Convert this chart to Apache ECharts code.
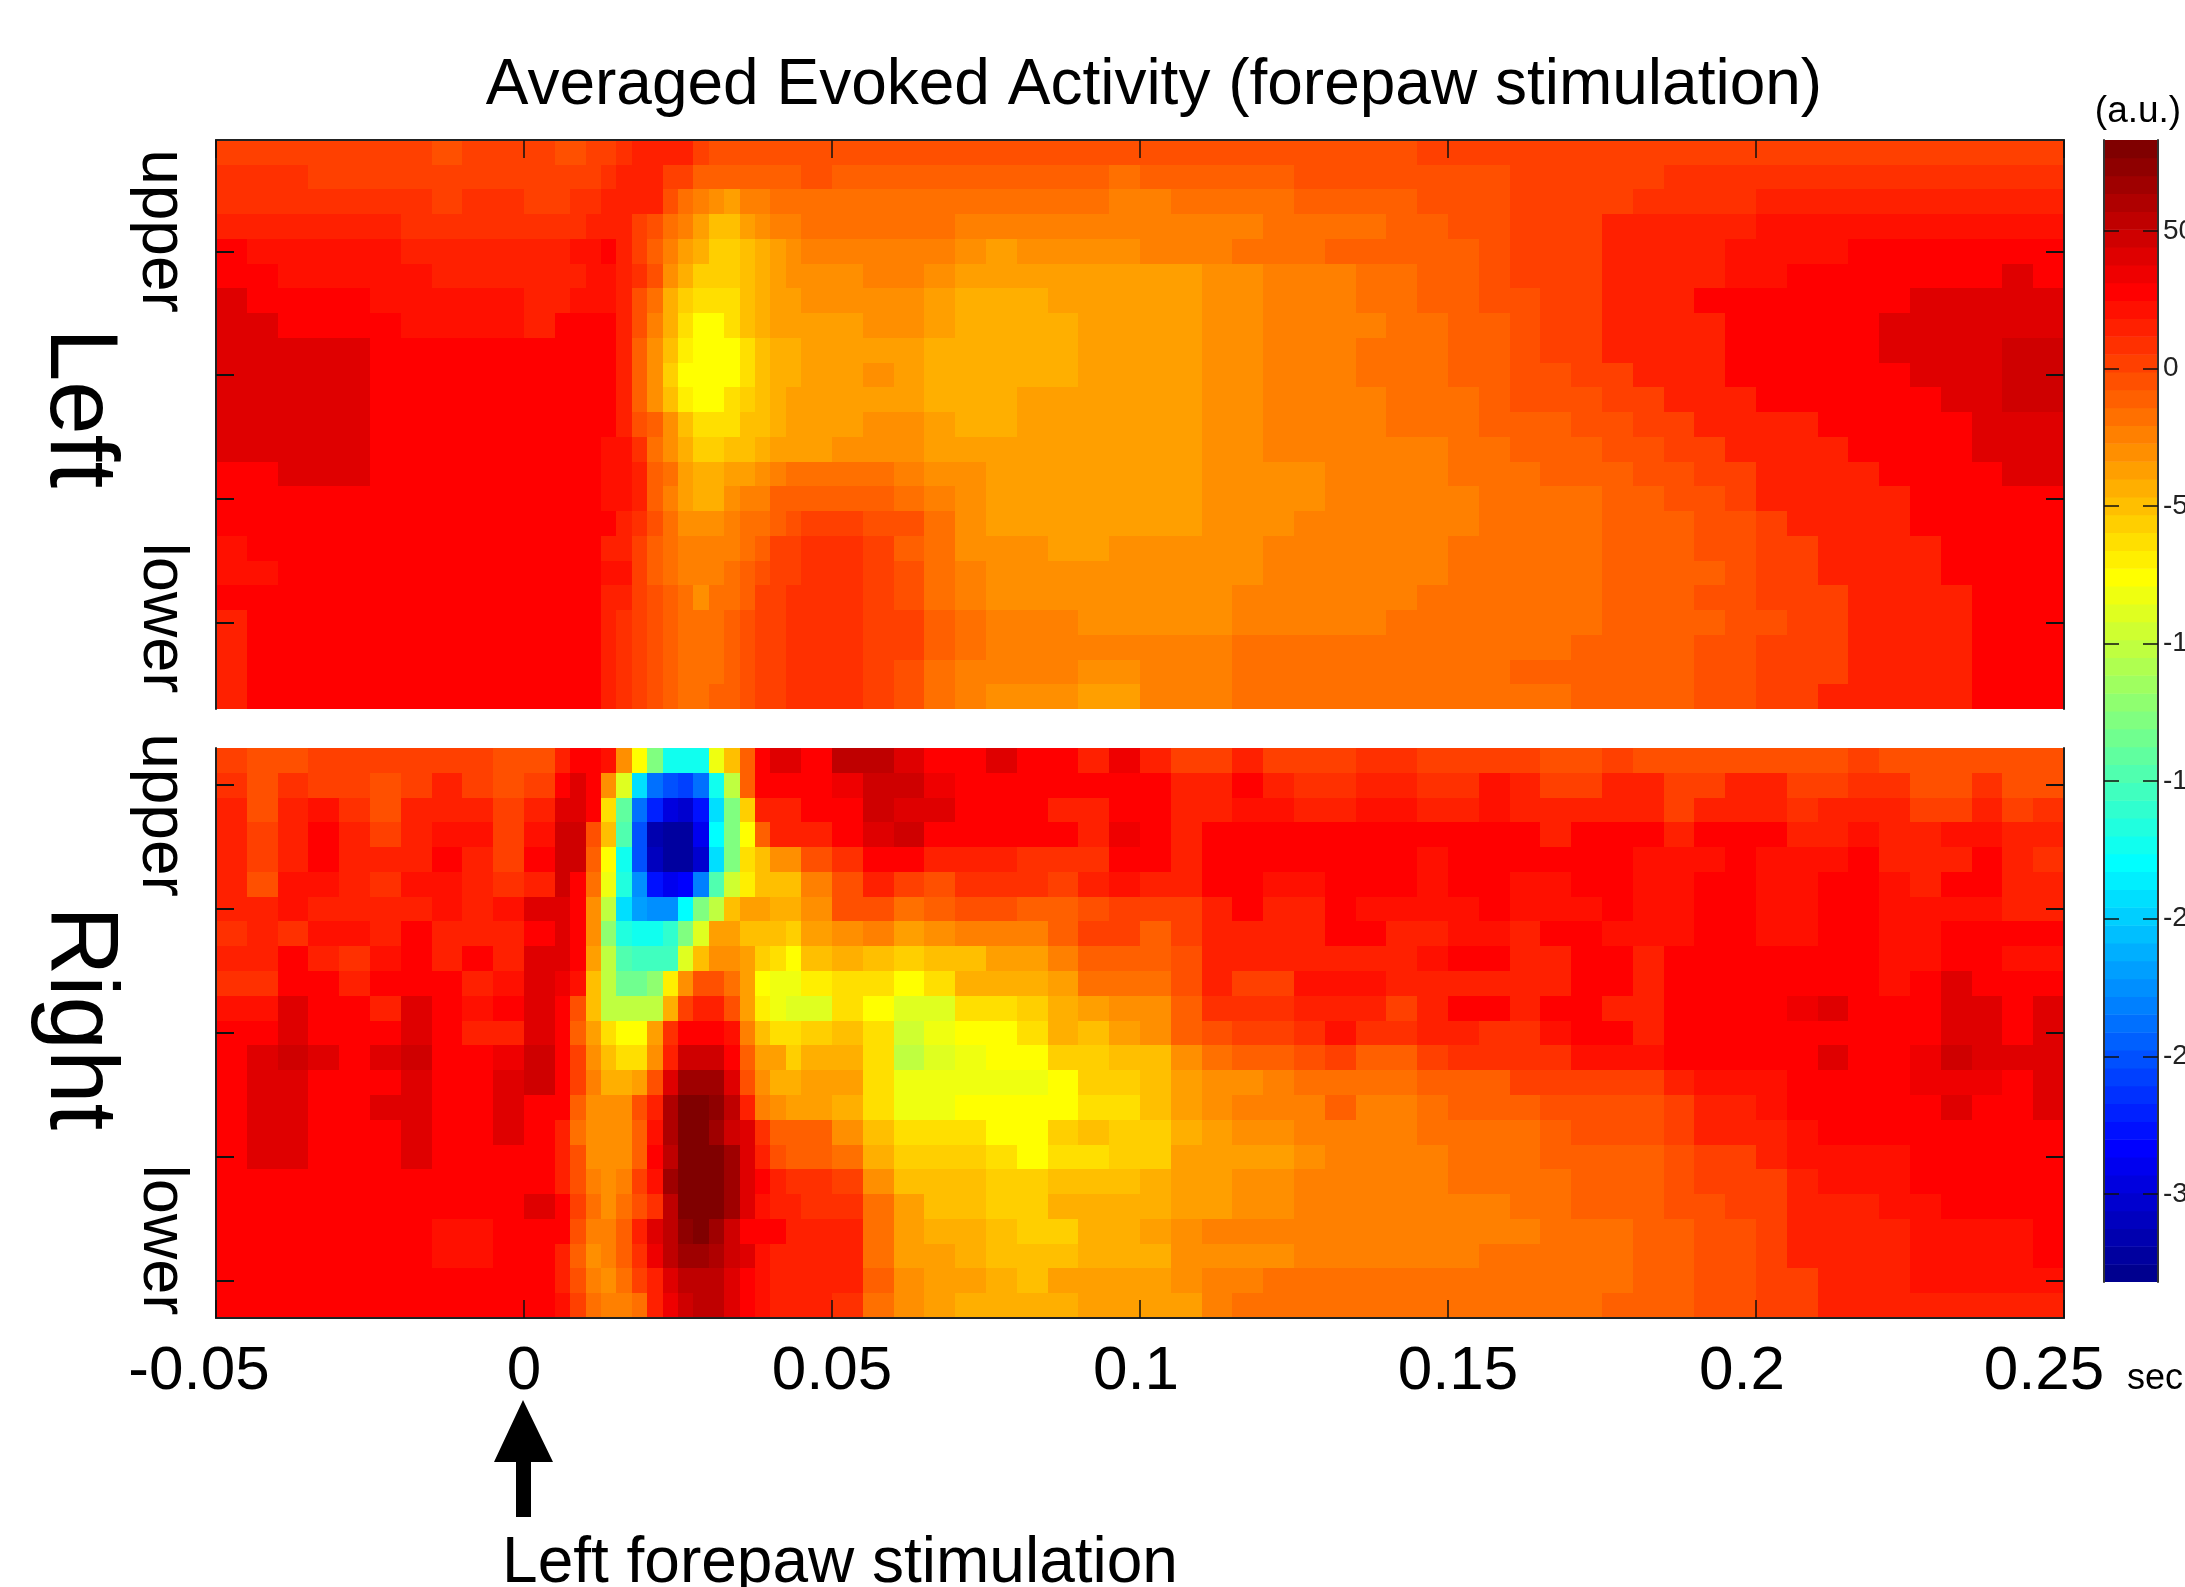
<!DOCTYPE html>
<html>
<head>
<meta charset="utf-8">
<title>Averaged Evoked Activity</title>
<script src="https://cdn.jsdelivr.net/npm/echarts@6/dist/echarts.min.js"></script>
<style>
html,body{margin:0;padding:0;background:#fff}
#main{width:2185px;height:1587px}
</style>
</head>
<body>
<div id="main"></div>
<script>
// column edges in seconds, finer around the evoked response
var timeEdges = [-0.05,-0.045,-0.04,-0.035,-0.03,-0.025,-0.02,-0.015,-0.01,-0.005,0,0.005,
    0.0075,0.01,0.0125,0.015,0.0175,0.02,0.0225,0.025,0.0275,0.03,0.0325,0.035,0.0375,0.04,0.0425,0.045,
    0.05,0.055,0.06,0.065,0.07,0.075,0.08,0.085,0.09,0.095,0.1,0.105,0.11,0.115,0.12,0.125,0.13,
    0.135,0.14,0.145,0.15,0.155,0.16,0.165,0.17,0.175,0.18,0.185,0.19,0.195,0.2,0.205,0.21,0.215,0.22,0.225,0.23,0.235,0.24,0.245,0.25]

var timeTicks = [-0.05,0,0.05,0.1,0.15,0.2,0.25]
var leftRowTicks = [5,10,15,20]
var rightRowTicks = [2,7,12,17,22]
var barTicks = [50,0,-50,-100,-150,-200,-250,-300]

// a.u. values, row 1 is the top row
var leftRows = [
[5,5,5,5,5,5,5,-2,2,2,2, -2,-2,2,2,8,18,18,18,12,5,-2,-2,-2,-2,-2,-2, -2,-2,-2,-2,-2,-2,-2,-2,-2,-2,-2,-2,-2,-2,-2,-2,-2, -2,-2,-2,2,3,3,3,3,3,3,3,3,3,3,3,3,3,3,3,3,3,3,3,3],
[8,8,8,2,5,2,2,2,2,2,2, 2,2,2,8,15,15,12,5,5,-8,-11,-11,-11,-11,-8,-8, -2,-8,-8,-8,-8,-8,-12,-12,-12,-12,-15,-10,-10,-10,-10,-10,-4, -4,-4,-4,-4,-4,-4,2,2,2,2,2,8,8,8,8,8,8,8,8,8,8,8,8,8],
[10,10,8,8,8,8,8,5,8,8,5, 5,8,8,16,16,16,12,-2,-15,-21,-30,-36,-26,-26,-19,-15, -15,-15,-15,-15,-15,-15,-19,-19,-19,-19,-21,-21,-17,-17,-17,-17,-10, -10,-10,-10,-3,-3,-3,3,3,3,3,10,10,10,10,15,15,15,15,15,15,15,15,15,15],
[18,18,12,12,12,12,8,8,8,8,8, 8,8,15,15,15,5,-2,-15,-24,-36,-47,-47,-37,-29,-24,-24, -19,-19,-19,-19,-19,-24,-24,-24,-24,-24,-25,-25,-21,-21,-21,-15,-15, -15,-15,-8,-8,-2,-2,5,5,5,12,12,15,15,15,22,22,22,22,22,22,22,22,22,22],
[25,22,22,22,22,22,15,15,15,15,18, 18,22,22,28,18,5,-8,-21,-34,-45,-54,-54,-50,-41,-34,-28, -24,-24,-24,-24,-24,-32,-38,-32,-32,-32,-32,-26,-26,-26,-19,-19,-19, -12,-12,-8,-8,-8,-2,5,5,5,12,12,15,15,22,22,22,22,31,31,31,31,31,31,31],
[28,28,22,22,22,22,22,17,17,17,17, 17,17,24,24,18,8,-5,-28,-41,-54,-58,-58,-50,-41,-34,-30, -30,-30,-26,-26,-32,-37,-37,-37,-37,-37,-34,-34,-34,-28,-28,-21,-21, -21,-15,-15,-8,-8,-2,5,5,5,12,15,15,15,24,24,31,31,31,31,31,31,31,38,31],
[38,28,28,28,28,22,22,22,22,22,17, 17,24,24,24,18,-2,-20,-42,-55,-65,-65,-65,-50,-44,-38,-38, -32,-32,-32,-32,-38,-44,-44,-44,-38,-38,-38,-34,-34,-28,-28,-21,-21, -21,-15,-15,-8,-8,-2,-2,5,5,12,18,18,25,25,31,31,31,31,31,38,38,38,38,38],
[41,41,31,31,31,31,24,24,24,24,17, 25,25,28,25,18,-2,-21,-44,-60,-73,-73,-65,-50,-44,-38,-38, -38,-38,-32,-32,-38,-45,-45,-45,-45,-38,-38,-34,-34,-28,-28,-21,-21, -21,-21,-15,-15,-8,-8,-2,5,5,12,12,18,18,25,31,31,31,31,38,38,38,38,38,38],
[42,42,42,42,42,31,31,31,31,25,25, 25,31,31,25,18,-8,-28,-47,-70,-73,-78,-73,-60,-50,-45,-45, -38,-38,-38,-38,-45,-45,-45,-45,-45,-38,-38,-34,-34,-28,-28,-21,-21, -21,-15,-15,-15,-8,-8,-2,5,5,12,12,18,18,25,25,31,31,31,38,38,38,38,48,48],
[42,42,42,42,42,31,31,31,31,25,25, 31,31,31,25,18,-8,-28,-54,-73,-78,-78,-73,-60,-52,-45,-45, -38,-38,-32,-38,-45,-45,-45,-45,-45,-38,-38,-34,-34,-28,-28,-21,-21, -21,-15,-15,-15,-8,-8,-2,-2,5,5,12,12,18,25,25,25,31,31,31,38,38,38,48,48],
[42,42,42,42,42,31,31,31,31,31,25, 31,31,31,25,15,-8,-28,-50,-70,-73,-73,-65,-54,-50,-45,-38, -38,-38,-38,-38,-41,-45,-45,-38,-38,-38,-38,-34,-34,-28,-28,-21,-21, -21,-21,-15,-15,-15,-8,-2,-2,-2,5,5,12,12,18,25,25,25,31,31,31,38,38,48,48],
[42,42,42,42,42,31,31,31,31,31,31, 31,31,31,25,18,-2,-12,-28,-50,-65,-65,-65,-47,-47,-41,-38, -38,-38,-32,-32,-38,-41,-41,-38,-38,-38,-38,-34,-34,-28,-28,-21,-21, -21,-21,-15,-15,-15,-8,-8,-8,-2,-2,5,5,12,18,18,18,25,25,31,31,31,38,38,38],
[42,42,42,42,42,31,31,31,31,31,31, 31,31,31,22,22,8,-15,-28,-45,-56,-56,-47,-47,-41,-34,-34, -34,-28,-28,-32,-38,-38,-38,-38,-38,-38,-38,-34,-34,-28,-28,-21,-21, -21,-21,-21,-21,-15,-15,-8,-8,-8,-2,-2,5,5,12,18,18,18,25,25,31,31,38,38,38],
[31,31,38,38,38,31,31,31,31,31,31, 31,31,31,22,22,12,-8,-20,-38,-44,-45,-38,-38,-28,-21,-18, -15,-15,-15,-21,-28,-28,-38,-38,-38,-38,-38,-34,-34,-28,-28,-28,-28, -21,-21,-21,-21,-15,-15,-15,-8,-8,-8,-2,-2,5,5,12,12,18,18,25,25,31,31,38,38],
[31,31,31,31,31,31,31,31,31,31,31, 31,31,31,22,22,12,-10,-21,-35,-42,-42,-30,-24,-24,-11,-8, -8,-8,-8,-15,-25,-28,-34,-34,-34,-34,-34,-34,-34,-28,-28,-28,-28, -21,-21,-21,-21,-21,-15,-15,-15,-15,-8,-8,-2,-2,5,12,12,12,18,18,25,25,31,31,31],
[25,31,31,31,31,31,31,31,31,31,26, 31,31,25,25,18,8,-2,-15,-30,-30,-30,-21,-15,-15,-8,-2, 0,0,-4,-6,-18,-28,-34,-34,-34,-34,-34,-34,-34,-28,-28,-28,-21, -21,-21,-21,-21,-21,-15,-15,-15,-15,-8,-8,-8,-2,-2,5,12,12,12,18,25,25,31,31,31],
[22,31,31,31,31,31,31,31,31,26,26, 31,25,25,18,18,5,-8,-15,-26,-26,-26,-26,-15,-8,0,0, 8,8,0,-8,-15,-28,-28,-28,-34,-34,-32,-32,-28,-28,-28,-21,-21, -21,-21,-21,-21,-15,-15,-15,-15,-15,-8,-8,-8,-2,-2,5,5,12,12,18,18,25,25,31,31],
[24,24,31,31,31,31,31,31,31,26,26, 26,26,26,20,20,5,-8,-15,-26,-26,-26,-19,-12,-5,0,0, 6,6,0,-5,-18,-24,-28,-28,-32,-32,-30,-30,-28,-28,-28,-21,-21, -21,-21,-21,-21,-15,-15,-15,-15,-15,-8,-8,-8,-8,-2,5,5,12,12,18,18,25,25,31,31],
[25,25,25,25,25,25,25,25,25,25,25, 25,25,25,18,18,5,-5,-12,-15,-28,-15,-15,-8,0,0,6, 6,6,0,-2,-15,-21,-28,-28,-28,-32,-30,-28,-28,-28,-21,-21,-21, -21,-21,-21,-15,-15,-15,-15,-15,-15,-8,-8,-8,-2,-2,5,5,5,12,18,18,18,25,25,25],
[18,25,25,25,25,25,25,25,25,25,25, 25,25,25,18,8,2,-5,-12,-19,-19,-19,-11,-2,3,5,6, 6,6,2,0,-12,-19,-26,-26,-26,-32,-30,-28,-28,-28,-21,-21,-21, -21,-21,-15,-15,-15,-15,-15,-15,-15,-8,-8,-8,-8,-2,-2,5,5,12,12,18,18,25,25,25],
[18,25,25,25,25,25,25,25,25,25,25, 25,25,25,18,8,5,-5,-11,-19,-19,-19,-11,-2,5,5,6, 6,6,2,0,-12,-19,-22,-26,-26,-26,-26,-26,-26,-26,-19,-19,-19, -19,-19,-15,-15,-15,-15,-15,-15,-10,-10,-10,-10,-3,-3,5,5,5,12,12,18,18,25,25,25],
[18,25,25,25,25,25,25,25,25,25,25, 25,25,25,15,8,3,-5,-11,-19,-19,-19,-11,-2,5,5,6, 6,6,2,-2,-15,-21,-26,-26,-26,-32,-32,-26,-26,-26,-19,-19,-19, -19,-15,-15,-15,-15,-15,-10,-10,-10,-10,-10,-10,-2,-2,5,5,5,12,12,18,18,25,25,25],
[18,25,25,25,25,25,25,25,25,25,25, 25,25,25,15,8,3,-5,-11,-19,-19,-11,-11,-2,5,5,6, 6,6,2,-2,-15,-21,-28,-28,-28,-34,-34,-26,-26,-26,-19,-19,-19, -19,-19,-15,-15,-15,-15,-15,-15,-10,-10,-10,-10,-2,-2,5,5,12,12,12,18,18,25,25,25]
]

var rightRows = [
[5,-2,-2,5,5,2,2,5,5,-2,-2, 18,25,25,20,-30,-73,-125,-176,-176,-176,-85,-50,-8,30,38,38, 31,52,52,44,31,31,44,31,31,18,36,18,5,5,18,5,5, 5,10,10,2,2,2,2,-3,-3,4,-2,-2,-2,-2,-4,-4,-4,4,-4,-4,-4,-4,-4,-4],
[8,-2,8,5,5,-2,5,12,5,-2,5, 25,38,30,-30,-90,-190,-235,-250,-255,-240,-176,-100,-10,25,31,31, 31,36,50,50,36,31,31,31,25,25,28,28,18,18,25,18,8, 8,18,18,10,10,22,12,5,5,12,12,4,4,12,12,2,2,8,8,-2,-2,8,-2,-2],
[15,-2,12,20,8,-2,12,18,18,5,18, 44,44,25,-60,-140,-235,-270,-295,-300,-280,-190,-125,-55,18,18,18, 28,31,50,38,38,31,25,25,18,18,26,26,18,18,22,22,15, 15,24,24,12,12,22,18,15,12,12,12,5,15,15,15,8,15,15,15,5,5,12,3,10],
[12,5,15,25,18,5,15,22,22,5,22, 48,48,-2,-47,-150,-250,-315,-325,-325,-290,-180,-125,-73,-8,12,12, 18,25,38,45,25,31,31,25,25,15,36,25,15,25,31,25,25, 25,31,25,25,25,31,25,15,27,27,27,17,27,27,27,15,15,24,13,13,22,22,12,12],
[12,5,15,25,18,15,15,25,15,5,25, 50,45,-8,-75,-176,-250,-310,-320,-320,-300,-190,-125,-65,-47,-30,-28, -5,10,25,25,15,18,18,8,8,8,25,25,15,25,31,25,25, 31,31,31,22,31,31,31,25,31,31,22,22,22,31,22,22,22,31,18,15,15,27,18,8],
[12,-2,22,20,12,10,24,24,18,8,18, 45,28,-15,-85,-165,-225,-280,-290,-285,-230,-150,-95,-70,-47,-47,-47, -25,-2,12,5,-2,10,10,8,2,12,22,18,18,28,31,24,24, 31,31,31,24,31,31,24,24,31,31,22,22,31,31,22,22,31,31,22,17,25,25,15,15],
[15,15,22,15,18,18,18,20,18,22,38, 38,28,-28,-100,-190,-220,-225,-225,-180,-130,-100,-50,-34,-38,-41,-41, -32,-3,-2,-15,-8,-2,-2,-8,-8,-2,3,3,3,18,25,18,18, 25,22,22,22,22,31,22,22,22,31,22,22,31,31,22,22,28,28,22,22,22,22,15,15],
[10,16,10,22,22,18,25,15,18,18,30, 41,25,-30,-120,-165,-176,-176,-160,-125,-90,-36,-36,-47,-47,-52,-56, -38,-30,-21,-36,-30,-21,-21,-21,-12,3,5,-8,5,18,18,18,18, 25,25,12,12,22,22,13,25,25,22,22,22,31,31,22,22,28,28,22,22,28,28,25,25],
[12,12,25,15,10,24,28,18,25,16,38, 38,31,-35,-100,-150,-155,-155,-155,-90,-47,-28,-28,-34,-54,-65,-73, -50,-41,-50,-57,-50,-50,-38,-38,-21,-12,-12,-12,-4,12,12,12,12, 18,18,18,20,25,25,18,18,25,25,15,25,31,31,25,25,31,31,22,22,28,28,22,22],
[10,10,25,25,12,25,31,25,17,22,44, 35,20,-50,-100,-135,-135,-120,-70,-28,-2,-2,-15,-34,-73,-80,-80, -70,-60,-60,-73,-60,-41,-41,-41,-38,-15,-15,-15,-4,12,5,5,22, 24,24,12,18,18,18,18,18,27,27,17,27,31,31,25,30,30,30,22,31,38,28,28,31],
[22,20,38,25,25,18,38,25,20,28,44, 25,-4,-50,-100,-105,-105,-100,-45,5,18,18,-2,-36,-70,-85,-90, -90,-65,-73,-90,-90,-62,-62,-58,-41,-34,-28,-28,-11,10,10,10,18, 12,12,5,14,25,25,12,25,31,17,17,27,31,31,28,36,41,31,31,31,38,38,31,41],
[25,25,38,31,25,28,40,25,18,18,44, 25,-8,-36,-65,-73,-73,-40,10,31,31,31,20,-21,-50,-60,-60, -55,-47,-60,-95,-85,-73,-73,-66,-41,-47,-38,-30,-14,-4,1,1,10, 20,8,8,15,15,8,8,20,27,27,12,27,31,31,31,31,31,31,31,31,44,44,31,38],
[31,40,48,38,31,38,46,25,25,36,48, 28,5,-30,-52,-62,-62,-30,15,50,50,48,31,-8,-34,-34,-54, -45,-44,-65,-100,-90,-85,-78,-75,-57,-57,-47,-47,-28,-18,-11,-11,-4, 2,-8,-8,2,8,8,8,8,20,20,20,27,28,28,28,31,38,31,31,36,46,38,38,38],
[31,38,38,31,31,31,38,29,29,38,50, 28,5,-21,-42,-42,-35,-5,38,65,70,70,44,-5,-30,-41,-41, -34,-34,-60,-85,-85,-80,-80,-80,-73,-57,-54,-47,-34,-30,-30,-21,-15, -15,-15,-15,-8,-8,-8,0,0,5,5,5,15,20,20,20,28,31,31,31,36,36,36,31,38],
[31,40,40,31,31,38,38,31,31,38,31, 25,-8,-28,-32,-32,-5,15,60,80,83,75,55,18,-26,-30,-34, -34,-45,-62,-85,-85,-78,-78,-78,-73,-62,-62,-47,-38,-32,-26,-26,-21, -11,-21,-21,-15,-9,-9,-9,-2,-2,-2,-2,5,14,14,24,29,29,29,29,29,38,31,31,40],
[31,38,38,31,25,31,38,31,31,38,31, 18,-15,-28,-28,-28,-10,22,60,80,83,70,50,38,10,-8,-8, -8,-30,-47,-60,-60,-60,-73,-73,-56,-47,-56,-56,-41,-36,-28,-28,-21, -21,-21,-21,-15,-15,-15,-15,-10,-3,-3,-3,4,12,12,12,22,27,27,27,31,31,31,31,31],
[31,38,38,31,31,28,38,31,31,31,31, 18,-2,-28,-28,-28,-8,25,57,80,83,80,68,44,15,-2,-8, -8,-15,-41,-54,-56,-56,-65,-73,-60,-60,-54,-54,-38,-34,-34,-34,-28, -21,-21,-21,-21,-15,-15,-15,-8,-8,-8,-8,-2,5,5,14,24,24,24,24,27,31,31,28,31],
[31,31,31,31,25,31,31,31,25,31,28, 15,-5,-21,-32,-25,5,20,65,83,83,83,70,44,25,15,10, 8,5,-30,-50,-50,-50,-54,-54,-47,-47,-50,-45,-38,-34,-28,-28,-21, -21,-21,-21,-21,-15,-15,-15,-15,-8,-8,-8,-2,5,5,5,12,24,24,24,27,27,27,27,27],
[28,31,31,31,31,31,31,25,28,28,38, 31,0,-20,-28,-19,-2,10,57,83,83,78,68,44,22,15,12, 10,8,-20,-38,-47,-47,-54,-54,-41,-41,-45,-45,-34,-34,-28,-28,-21, -21,-21,-21,-21,-21,-21,-15,-15,-8,-8,-8,-2,-2,5,5,14,14,14,24,24,31,31,25,28],
[25,28,28,31,31,31,31,24,24,25,25, 28,-2,-21,-24,-11,14,38,57,75,78,70,48,25,25,25,14, 14,14,-15,-34,-41,-44,-47,-54,-54,-41,-41,-34,-30,-26,-26,-26,-21, -21,-21,-21,-21,-21,-21,-21,-15,-15,-15,-9,-9,-3,-3,5,15,15,15,15,22,22,22,22,28],
[25,25,31,25,25,25,31,24,24,31,31, 18,-10,-30,-24,-12,8,36,57,65,65,60,50,40,22,17,17, 17,17,-18,-36,-36,-41,-50,-50,-50,-41,-41,-41,-30,-30,-30,-30,-23, -23,-23,-23,-23,-26,-19,-15,-15,-15,-15,-9,-9,-3,-3,5,14,14,14,14,20,20,20,20,28],
[25,25,31,25,25,25,31,25,25,28,28, 18,-5,-25,-28,-19,2,18,38,52,57,55,44,31,22,15,15, 15,15,-10,-28,-36,-36,-45,-47,-38,-38,-38,-38,-32,-26,-26,-19,-19, -19,-19,-19,-19,-15,-15,-15,-15,-15,-15,-9,-9,-3,-3,5,5,14,14,14,20,20,20,20,20],
[25,25,25,25,25,25,25,25,25,25,28, 20,0,-15,-25,-25,-15,12,33,50,57,53,44,31,22,18,18, 18,8,-15,-30,-36,-41,-41,-41,-41,-38,-38,-38,-38,-26,-19,-19,-19, -19,-19,-19,-19,-15,-15,-15,-15,-15,-8,-8,-8,-2,-2,5,5,12,12,12,12,18,18,18,18]
]

var valueMin = -332
var valueMax = 83
var fontName = 'Liberation Sans'

// Matlab jet, 64 levels
function jetColors(){
    var out = []
    for(var i=0;i<64;i++){
        var p = (i+1)*4/64
        var r = Math.min(p-1.5,4.5-p)
        var g = Math.min(p-0.5,3.5-p)
        var b = Math.min(p+0.5,2.5-p)
        var c = [r,g,b].map(function(v){return Math.round(Math.max(0,Math.min(1,v))*255)})
        out.push('rgb('+c.join(',')+')')
    }
    return out
}
var jet = jetColors()

function cells(rows){
    var out = []
    rows.forEach(function(row,r){
        row.forEach(function(v,c){
            out.push([timeEdges[c],timeEdges[c+1],r+1,v])
        })
    })
    return out
}

function barCells(){
    var out = []
    var step = (valueMax-valueMin)/64
    jet.forEach(function(col,i){
        out.push([0,1,valueMin+i*step,valueMin+(i+1)*step,col])
    })
    return out
}
var barData = barCells()

function drawCell(params,api){
    var a = api.coord([api.value(0),api.value(2)-0.5])
    var b = api.coord([api.value(1),api.value(2)+0.5])
    var x = Math.round(a[0]), y = Math.round(a[1])
    return {
        type:'rect',
        shape:{x:x,y:y,width:Math.round(b[0])-x,height:Math.round(b[1])-y},
        style:{fill:api.visual('color')}
    }
}

function drawBar(params,api){
    var a = api.coord([api.value(0),api.value(3)])
    var b = api.coord([api.value(1),api.value(2)])
    return {
        type:'rect',
        shape:{x:a[0],y:a[1],width:b[0]-a[0],height:b[1]-a[1]+0.5},
        style:{fill:barData[params.dataIndex][4]}
    }
}

function rowAxis(grid,pos,ticks){
    return {
        type:'value',gridIndex:grid,position:pos,min:0.5,max:23.5,inverse:true,z:10,
        axisLine:{show:true,onZero:false,lineStyle:{color:'#222',width:2}},
        axisTick:{inside:true,length:18,customValues:ticks,lineStyle:{color:'#111',width:2}},
        axisLabel:{show:false},splitLine:{show:false}
    }
}

// the original labels do not sit exactly under their ticks
var labelStyle = {fontFamily:fontName,fontSize:62,color:'#000'}
function padded(left,right){
    return Object.assign({padding:[0,right,0,left]},labelStyle)
}
var labelRich = {
    a:padded(0,34), b:padded(0,0), c:padded(0,0), d:padded(0,8),
    e:padded(20,0), f:padded(0,28), g:padded(0,40)
}
function timeLabel(v){
    var key = 'abcdefg'.charAt(timeTicks.indexOf(v))
    return '{'+key+'|'+v+'}'
}
function timeAxis(grid,pos,labels){
    return {
        type:'value',gridIndex:grid,position:pos,min:-0.05,max:0.25,z:10,
        axisLine:{show:true,onZero:false,lineStyle:{color:'#222',width:2}},
        axisTick:{inside:true,length:18,customValues:timeTicks,lineStyle:{color:'#111',width:1.5}},
        axisLabel:{show:labels,customValues:timeTicks,margin:23,formatter:timeLabel,rich:labelRich},
        splitLine:{show:false}
    }
}
function barAxis(pos,labels){
    return {
        type:'value',gridIndex:2,position:pos,min:valueMin,max:valueMax,z:10,
        axisLine:{show:true,onZero:false,lineStyle:{color:'#333',width:2}},
        axisTick:{inside:true,length:15,customValues:barTicks,lineStyle:{color:'#111',width:1.5}},
        axisLabel:{show:labels,customValues:barTicks,margin:5,fontFamily:fontName,fontSize:28,color:'#222'},
        splitLine:{show:false}
    }
}

function label(text,x,y,size,rotated){
    return {
        type:'text',x:x,y:y,rotation:rotated?-Math.PI/2:0,silent:true,
        style:{text:text,fontFamily:fontName,fontSize:size,fill:'#000',align:'center',verticalAlign:'middle'}
    }
}

var myChart = echarts.init(document.getElementById('main'))
myChart.setOption({
    animation:false,
    backgroundColor:'#fff',
    grid:[
        {left:216,top:140,width:1848,height:569,outerBoundsMode:'none'},
        {left:216,top:748,width:1848,height:570,outerBoundsMode:'none'},
        {left:2104,top:140,width:54,height:1142,outerBoundsMode:'none'}
    ],
    xAxis:[
        timeAxis(0,'top',false),
        timeAxis(1,'bottom',true),
        {type:'value',gridIndex:2,min:0,max:1,show:false}
    ],
    yAxis:[
        rowAxis(0,'left',leftRowTicks),
        rowAxis(0,'right',leftRowTicks),
        rowAxis(1,'left',rightRowTicks),
        rowAxis(1,'right',rightRowTicks),
        barAxis('left',false),
        barAxis('right',true)
    ],
    visualMap:{
        type:'piecewise',show:false,min:valueMin,max:valueMax,splitNumber:64,
        seriesIndex:[0,1],dimension:3,inRange:{color:jet}
    },
    series:[
        {type:'custom',name:'Left',xAxisIndex:0,yAxisIndex:0,silent:true,clip:true,renderItem:drawCell,encode:{x:[0,1],y:2},data:cells(leftRows)},
        {type:'custom',name:'Right',xAxisIndex:1,yAxisIndex:2,silent:true,clip:true,renderItem:drawCell,encode:{x:[0,1],y:2},data:cells(rightRows)},
        {type:'custom',name:'scale',xAxisIndex:2,yAxisIndex:4,silent:true,clip:true,renderItem:drawBar,encode:{x:[0,1],y:[2,3]},data:barData.map(function(d){return d.slice(0,4)})}
    ],
    graphic:[
        label('Averaged Evoked Activity (forepaw stimulation)',1154,86,64),
        label('(a.u.)',2138,112,37),
        label('sec',2155,1379,36),
        label('Left',77,408,96,true),
        label('Right',77,1018,96,true),
        label('upper',161,231,64,true),
        label('lower',161,618,63,true),
        label('upper',161,815,64,true),
        label('lower',161,1240,63,true),
        label('Left forepaw stimulation',840,1564,64),
        {type:'polygon',silent:true,shape:{points:[[523,1400],[553,1462],[531,1462],[531,1517],[516,1517],[516,1462],[494,1462]]},style:{fill:'#000'}}
    ]
})
</script>
</body>
</html>
